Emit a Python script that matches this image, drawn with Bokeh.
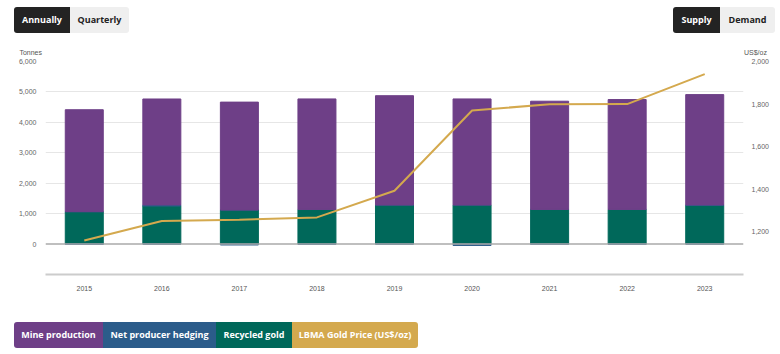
from bokeh.plotting import figure
from bokeh.models import (Range1d, LinearAxis, FixedTicker, NumeralTickFormatter,
                          Span, Div, ColumnDataSource)
from bokeh.layouts import column
from bokeh.embed import file_html
from bokeh.resources import INLINE

# ---------------- data ----------------
years = ["2015", "2016", "2017", "2018", "2019", "2020", "2021", "2022", "2023"]
mine_production = [3350, 3480, 3545, 3630, 3590, 3485, 3555, 3610, 3625]
net_hedging = [-13, 38, -30, -12, 6, -45, -10, -13, 17]
recycled_gold = [1065, 1250, 1120, 1140, 1280, 1285, 1140, 1140, 1270]
gold_price = [1160, 1251, 1257, 1268, 1393, 1770, 1799, 1800, 1941]
left_ticks = [0, 1000, 2000, 3000, 4000, 5000, 6000]
right_ticks = [1200, 1400, 1600, 1800, 2000]

C_MINE = "#6e3f87"
C_HEDGE = "#2b5c8a"
C_REC = "#00685a"
C_GOLD = "#d4a94e"

FONT = "Liberation Sans"

idx = list(range(len(years)))
hedge_pos = [max(h, 0) for h in net_hedging]
hedge_neg = [min(h, 0) for h in net_hedging]
rec_top = recycled_gold
hp_top = [r + h for r, h in zip(recycled_gold, hedge_pos)]
mine_top = [t + m for t, m in zip(hp_top, mine_production)]

src = ColumnDataSource(dict(
    x=idx, zero=[0] * len(idx), rec_top=rec_top, hp_top=hp_top,
    mine_top=mine_top, hneg=hedge_neg, price=gold_price))

p = figure(width=780, height=243, x_range=Range1d(-0.5, len(years) - 0.5),
           y_range=Range1d(-1000, 6000), output_backend="svg",
           toolbar_location=None, min_border_left=45, min_border_right=37,
           min_border_top=4, min_border_bottom=26)
p.margin = 0
p.outline_line_color = None
p.background_fill_color = "white"
p.border_fill_color = "white"

W = 0.49
p.vbar(x="x", bottom="zero", top="rec_top", width=W, color=C_REC, source=src)
p.vbar(x="x", bottom="rec_top", top="hp_top", width=W, color=C_HEDGE, source=src)
p.vbar(x="x", bottom="hp_top", top="mine_top", width=W, color=C_MINE, source=src)
p.vbar(x="x", bottom="hneg", top="zero", width=W, color=C_HEDGE, source=src)

p.extra_y_ranges = {"price": Range1d(1000, 2000)}
p.line(x="x", y="price", y_range_name="price", source=src, line_color=C_GOLD,
       line_width=2)

# axes
xa = p.xaxis[0]
xa.ticker = FixedTicker(ticks=idx)
xa.major_label_overrides = {i: y for i, y in zip(idx, years)}
xa.axis_line_color = "#cccccc"
xa.axis_line_width = 2
xa.major_tick_line_color = None
xa.minor_tick_line_color = None
xa.major_label_text_font = FONT
xa.major_label_text_font_size = "7px"
xa.major_label_text_color = "#555555"
xa.major_label_standoff = 5

ya = p.yaxis[0]
ya.ticker = FixedTicker(ticks=left_ticks)
ya.formatter = NumeralTickFormatter(format="0,0")
ya.axis_line_color = None
ya.major_tick_line_color = None
ya.minor_tick_line_color = None
ya.major_label_text_font = FONT
ya.major_label_text_font_size = "7px"
ya.major_label_text_color = "#666666"
ya.major_label_standoff = 3

ra = LinearAxis(y_range_name="price", ticker=FixedTicker(ticks=right_ticks),
                formatter=NumeralTickFormatter(format="0,0"))
ra.axis_line_color = None
ra.major_tick_line_color = None
ra.minor_tick_line_color = None
ra.major_label_text_font = FONT
ra.major_label_text_font_size = "7px"
ra.major_label_text_color = "#666666"
ra.major_label_standoff = 2
p.add_layout(ra, "right")

p.xgrid.grid_line_color = None
p.ygrid.ticker = FixedTicker(ticks=left_ticks[1:])
p.ygrid.grid_line_color = "#e6e6e6"
p.ygrid.grid_line_width = 1

p.add_layout(Span(location=0, dimension="width", line_color="#aaaaaa",
                  line_width=1.5))

# ---------------- buttons, axis titles & legend ----------------
def box(left, width, top, height, bg, fg, text, radius):
    return (f'<div style="position:absolute;left:{left}px;top:{top}px;width:{width}px;'
            f'height:{height}px;background:{bg};color:{fg};display:flex;align-items:center;'
            f'justify-content:center;font-family:\'Open Sans\';font-weight:700;'
            f'font-size:9px;border-radius:{radius};white-space:nowrap;">{text}</div>')

def axis_title(left, width, align, text):
    return (f'<div style="position:absolute;left:{left}px;top:48px;width:{width}px;'
            f'height:9px;line-height:9px;text-align:{align};font-family:\'{FONT}\';'
            f'font-size:7px;color:#555555;white-space:nowrap;">{text}</div>')

top_html = ('<div style="position:relative;width:780px;height:57px;">'
            + box(14, 56, 7, 26, "#232323", "#ffffff", "Annually", "3px 0 0 3px")
            + box(70, 59, 7, 26, "#efefef", "#222222", "Quarterly", "0 3px 3px 0")
            + box(673, 47, 7, 26, "#232323", "#ffffff", "Supply", "3px 0 0 3px")
            + box(720, 55, 7, 26, "#efefef", "#222222", "Demand", "0 3px 3px 0")
            + axis_title(0, 42, "right", "Tonnes")
            + axis_title(744, 36, "left", "US$/oz")
            + '</div>')
top_div = Div(text=top_html, width=780, height=57, margin=0)

legend_names = ["Mine production", "Net producer hedging", "Recycled gold",
                "LBMA Gold Price (US$/oz)"]
legend_colors = [C_MINE, C_HEDGE, C_REC, C_GOLD]
legend_widths = [89, 113, 76, 126]
html = '<div style="position:relative;width:780px;height:54px;">'
x0 = 14
for i, (n, c, w) in enumerate(zip(legend_names, legend_colors, legend_widths)):
    r = "3px 0 0 3px" if i == 0 else ("0 3px 3px 0" if i == len(legend_names) - 1 else "0")
    html += box(x0, w, 22, 26, c, "#ffffff", n, r)
    x0 += w
html += '</div>'
bottom_div = Div(text=html, width=780, height=54, margin=0)

layout = column(top_div, p, bottom_div, spacing=0, margin=0)
open("out.html", "w").write(file_html(layout, INLINE))
